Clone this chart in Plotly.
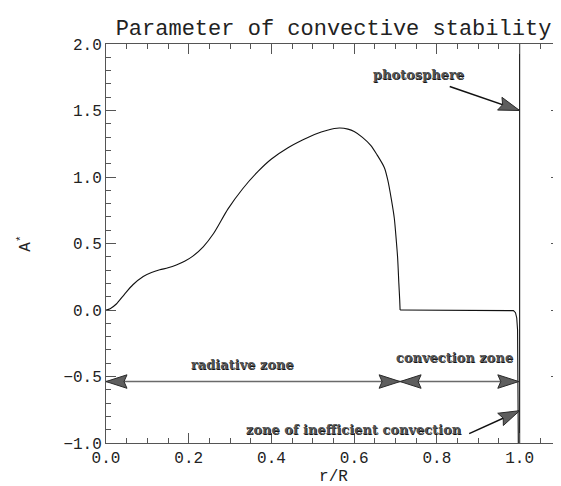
import math
import plotly.graph_objects as go

# ---------------- data ----------------
r_vals = [0.000, 0.010, 0.025, 0.045, 0.065, 0.090, 0.110, 0.130, 0.150, 0.170,
          0.190, 0.210, 0.235, 0.260, 0.295, 0.330, 0.367, 0.400, 0.440, 0.475,
          0.504, 0.535, 0.564, 0.585, 0.600, 0.620, 0.640, 0.655, 0.673, 0.681,
          0.690, 0.697, 0.702, 0.705, 0.708, 0.710, 0.711, 0.800, 0.900, 0.975,
          0.985, 0.990, 0.993, 0.995, 0.996, 0.997]
a_vals = [0.000, 0.010, 0.045, 0.120, 0.190, 0.252, 0.282, 0.302, 0.317, 0.338,
          0.366, 0.405, 0.475, 0.575, 0.760, 0.910, 1.040, 1.135, 1.220, 1.278,
          1.320, 1.352, 1.368, 1.360, 1.342, 1.298, 1.238, 1.168, 1.070, 0.980,
          0.830, 0.690, 0.515, 0.395, 0.200, 0.080, 0.000, 0.000, 0.000, 0.000,
          -0.005, -0.020, -0.060, -0.150, -0.400, -1.100]
split_r = 0.711  # base of the radiative/convective boundary drop

photosphere_r = 1.0

x_range = [0.0, 1.1]
y_range = [-1.0, 2.0]
x_ticks = [0.0, 0.2, 0.4, 0.6, 0.8, 1.0]
y_ticks = [-1.0, -0.5, 0.0, 0.5, 1.0, 1.5, 2.0]

title_text = "Parameter of convective stability"
x_title = "r/R"
y_title = "A<sup>*</sup>"

# labels (text, x, y)
label_texts = ["photosphere", "radiative zone", "convection zone", "zone of inefficient convection"]
label_x = [0.755, 0.331, 0.843, 0.600]
label_y = [1.77, -0.41, -0.36, -0.90]

# single arrows: (tail, tip)
single_tail = [(0.831, 1.68), (0.878, -0.93)]
single_tip = [(1.0, 1.50), (1.0, -0.757)]
# double arrows: (start, end)
double_start = [(0.0, -0.538), (0.711, -0.538)]
double_end = [(0.711, -0.538), (0.998, -0.538)]

# ---------------- layout geometry ----------------
W, H = 561, 486
ML, MR, MT, MB = 98, 8, 36, 51
PW, PH = W - ML - MR, H - MT - MB
SX = PW / (x_range[1] - x_range[0])
SY = PH / (y_range[1] - y_range[0])

MONO = "Liberation Mono"

fig = go.Figure()

# curve: smooth radiative part, then the convective part
k = r_vals.index(split_r) + 1
fig.add_trace(go.Scatter(x=r_vals[:k], y=a_vals[:k], mode="lines",
                         line=dict(color="#111111", width=1.1, shape="spline", smoothing=0.8),
                         hoverinfo="skip"))
fig.add_trace(go.Scatter(x=r_vals[k - 1:], y=a_vals[k - 1:], mode="lines",
                         line=dict(color="#111111", width=1.1), hoverinfo="skip"))
# photosphere line
fig.add_trace(go.Scatter(x=[photosphere_r, photosphere_r], y=y_range, mode="lines",
                         line=dict(color="#111111", width=1.1), hoverinfo="skip"))


def head(tip, tail, L=21.0, Wd=13.5, notch=3.0):
    dx = (tip[0] - tail[0]) * SX
    dy = (tip[1] - tail[1]) * SY
    n = math.hypot(dx, dy)
    ux, uy = dx / n, dy / n
    bx = tip[0] - ux * L / SX
    by = tip[1] - uy * L / SY
    px, py = -uy * Wd / 2, ux * Wd / 2
    xs = [tip[0], bx + px / SX, bx + ux * notch / SX, bx - px / SX, tip[0]]
    ys = [tip[1], by + py / SY, by + uy * notch / SY, by - py / SY, tip[1]]
    return xs, ys


def add_head(tip, tail):
    xs, ys = head(tip, tail)
    fig.add_trace(go.Scatter(x=xs, y=ys, mode="lines", fill="toself",
                             fillcolor="#5e5e5e", line=dict(color="#2a2a2a", width=1),
                             hoverinfo="skip"))


for (t0, t1) in zip(single_tail, single_tip):
    fig.add_trace(go.Scatter(x=[t0[0], t1[0]], y=[t0[1], t1[1]], mode="lines",
                             line=dict(color="#111111", width=1.5), hoverinfo="skip"))
    add_head(t1, t0)

for (s, e) in zip(double_start, double_end):
    fig.add_trace(go.Scatter(x=[s[0], e[0]], y=[s[1], e[1]], mode="lines",
                             line=dict(color="#6a6a6a", width=1.5), hoverinfo="skip"))
    add_head(e, s)
    add_head(s, e)

for t, x, y in zip(label_texts, label_x, label_y):
    fig.add_annotation(x=x, y=y, text="<b>" + t + "</b>", showarrow=False,
                       font=dict(family="DejaVu Serif", size=13, color="#555555",
                                 shadow="0.6px 0.6px 0px #111111"))

axis_common = dict(showline=True, linecolor="#555555", linewidth=1, mirror="allticks",
                   ticks="inside", ticklen=10, tickwidth=1, tickcolor="#555555",
                   showgrid=False, zeroline=False, tickformat=".1f",
                   tickfont=dict(family=MONO, size=16, color="#222222"))

fig.update_xaxes(range=x_range, tickvals=x_ticks, ticklabelstandoff=0,
                 minor=dict(dtick=0.05, tick0=0, ticks="inside", ticklen=5, tickcolor="#555555"),
                 title=dict(text=x_title, font=dict(family=MONO, size=16, color="#222222"),
                            standoff=0),
                 **axis_common)
fig.update_yaxes(range=y_range, tickvals=y_ticks,
                 minor=dict(dtick=0.1, tick0=0, ticks="inside", ticklen=5, tickcolor="#555555"),
                 title=dict(text=y_title, font=dict(family=MONO, size=16, color="#222222"),
                            standoff=28),
                 **axis_common)

fig.update_layout(
    width=W, height=H,
    margin=dict(l=ML, r=MR, t=MT, b=MB, autoexpand=False),
    paper_bgcolor="white", plot_bgcolor="white",
    showlegend=False,
    title=dict(text=title_text, xref="paper", x=0.5, xanchor="center",
               yref="container", y=1 - 19 / H, yanchor="middle",
               font=dict(family=MONO, size=22, color="#222222")),
)

fig.write_html("out.html")
